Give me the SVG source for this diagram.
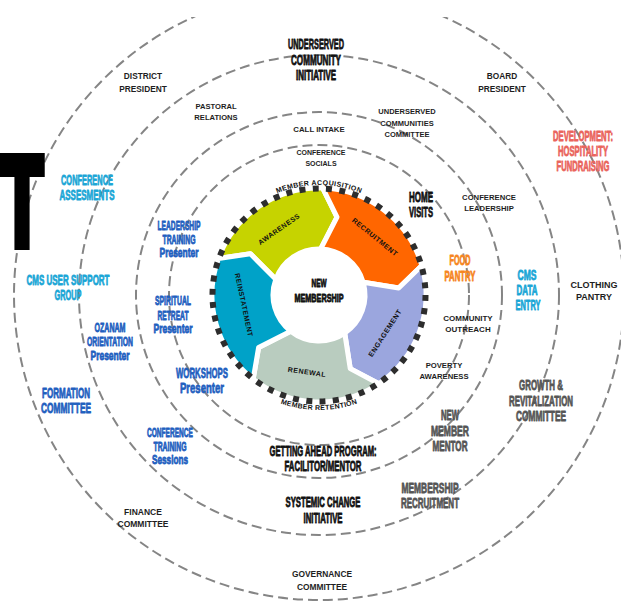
<svg xmlns="http://www.w3.org/2000/svg" width="621" height="606" viewBox="0 0 621 606">
<defs>
<style>
.ring{fill:none;stroke:#858585;stroke-width:2;stroke-dasharray:10 5}
.lbl{font-family:"Liberation Sans",Arial,sans-serif;font-weight:bold;fill:#1e1e1e;text-anchor:middle}
.c{font-family:"Liberation Sans Narrow","Liberation Sans",Arial,sans-serif;font-weight:bold;font-size:14px;text-anchor:middle;stroke-width:0.8;stroke-linejoin:round}
.blk{fill:#111;stroke:#111}
.cy{fill:#1aa6d6;stroke:#1aa6d6}
.bl{fill:#1f5fbf;stroke:#1f5fbf}
.rd{fill:#ea645c;stroke:#ea645c}
.or{fill:#f68520;stroke:#f68520}
.gy{fill:#555;stroke:#555}
.seg{stroke:#fff;stroke-width:5;stroke-linejoin:round}
.st{font-family:"Liberation Sans",Arial,sans-serif;font-weight:bold;font-size:7px;letter-spacing:0.5px;fill:#111;text-anchor:middle}
</style>
<clipPath id="topclip"><rect x="0" y="17" width="621" height="589"/></clipPath>
<path id="arcTop" d="M 223.74 240 A 110 110 0 0 1 414.26 240"/>
<path id="arcBot" d="M 219.41 352.5 A 115 115 0 0 0 418.59 352.5"/>
</defs>
<rect width="621" height="606" fill="#fff"/>

<g id="rings">
<circle class="ring" cx="319" cy="295" r="305" clip-path="url(#topclip)"/>
<circle class="ring" cx="319" cy="295" r="240"/>
<circle class="ring" cx="319" cy="295" r="183"/>
<circle class="ring" cx="319" cy="295" r="150"/>
</g>

<g id="title-fragment">
<text transform="scale(0.541,1)" x="2.3" y="245" font-family="Liberation Sans,Arial,sans-serif" font-weight="bold" font-size="125.7" fill="#000" stroke="#000" stroke-width="10" stroke-linejoin="miter">T</text>
</g>

<g id="wheel">
<g id="awareness"><path class="seg" fill="#c6d300" d="M 218.45,258.41 A 107 107 0 0 1 322.73,188.06 L 337.0,217.05 L 320.61,249.03 A 46 46 0 0 0 275.77,279.27 L 250.42,253.80 Z"/>
<text class="st" transform="translate(279,229) rotate(-35)" y="2.5">AWARENESS</text></g>
<g id="recruitment"><path class="seg" fill="#ff6600" d="M 322.73,188.06 A 107 107 0 0 1 421.86,265.51 L 398.70,288.03 L 363.22,282.32 A 46 46 0 0 0 320.61,249.03 L 337.0,217.05 Z"/>
<text class="st" transform="translate(375,237) rotate(39)" y="2.5">RECRUITMENT</text></g>
<g id="engagement"><path class="seg" fill="#9ba6de" d="M 421.86,265.51 A 107 107 0 0 1 378.83,383.71 L 350.26,368.64 L 344.72,333.13 A 46 46 0 0 0 363.22,282.32 L 398.70,288.03 Z"/>
<text class="st" transform="translate(385,333) rotate(-57)" y="2.5">ENGAGEMENT</text></g>
<g id="renewal"><path class="seg" fill="#b9ccbf" d="M 378.83,383.71 A 107 107 0 0 1 253.12,379.32 L 258.62,347.49 L 290.68,331.25 A 46 46 0 0 0 344.72,333.13 L 350.26,368.64 Z"/>
<text class="st" transform="translate(307,372) rotate(8)" y="2.5">RENEWAL</text></g>
<g id="reinstatement"><path class="seg" fill="#00a2c8" d="M 253.12,379.32 A 107 107 0 0 1 218.45,258.41 L 250.42,253.80 L 275.77,279.27 A 46 46 0 0 0 290.68,331.25 L 258.62,347.49 Z"/>
<text class="st" transform="translate(244,305) rotate(78)" y="2.5">REINSTATEMENT</text></g>
<circle cx="319" cy="295" r="106.5" fill="none" stroke="#2d2d2d" stroke-width="6" stroke-dasharray="6 7.38"/>
<text class="st" style="letter-spacing:0.4px"><textPath href="#arcTop" startOffset="50%">MEMBER ACQUISITION</textPath></text>
<text class="st" style="letter-spacing:0.3px"><textPath href="#arcBot" startOffset="50%">MEMBER RETENTION</textPath></text>
</g>

<g id="new-membership">
<text class="c blk" style="font-size:11px" x="319" y="287" textLength="15" lengthAdjust="spacingAndGlyphs">NEW</text>
<text class="c blk" style="font-size:11px" x="319" y="302" textLength="49" lengthAdjust="spacingAndGlyphs">MEMBERSHIP</text>
</g>

<g id="underserved-community-initiative">
<text class="c blk" x="316" y="49" textLength="56" lengthAdjust="spacingAndGlyphs">UNDERSERVED</text>
<text class="c blk" x="316" y="65" textLength="50" lengthAdjust="spacingAndGlyphs">COMMUNITY</text>
<text class="c blk" x="316" y="80" textLength="40" lengthAdjust="spacingAndGlyphs">INITIATIVE</text>
</g>
<g id="home-visits">
<text class="c blk" x="421" y="202" textLength="24" lengthAdjust="spacingAndGlyphs">HOME</text>
<text class="c blk" x="421" y="217" textLength="24" lengthAdjust="spacingAndGlyphs">VISITS</text>
</g>
<g id="getting-ahead">
<text class="c blk" x="323" y="456" textLength="107" lengthAdjust="spacingAndGlyphs">GETTING AHEAD PROGRAM:</text>
<text class="c blk" x="323" y="471" textLength="77" lengthAdjust="spacingAndGlyphs">FACILITOR/MENTOR</text>
</g>
<g id="systemic-change">
<text class="c blk" x="323" y="507" textLength="75" lengthAdjust="spacingAndGlyphs">SYSTEMIC CHANGE</text>
<text class="c blk" x="323" y="523" textLength="39" lengthAdjust="spacingAndGlyphs">INITIATIVE</text>
</g>

<g id="conference-assesments">
<text class="c cy" x="87" y="185" textLength="52" lengthAdjust="spacingAndGlyphs">CONFERENCE</text>
<text class="c cy" x="87" y="200" textLength="55" lengthAdjust="spacingAndGlyphs">ASSESMENTS</text>
</g>
<g id="cms-user-support">
<text class="c cy" x="68" y="285" textLength="83" lengthAdjust="spacingAndGlyphs">CMS USER SUPPORT</text>
<text class="c cy" x="68" y="300" textLength="27" lengthAdjust="spacingAndGlyphs">GROUP</text>
</g>
<g id="cms-data-entry">
<text class="c cy" x="527" y="280" textLength="19" lengthAdjust="spacingAndGlyphs">CMS</text>
<text class="c cy" x="527" y="295" textLength="21" lengthAdjust="spacingAndGlyphs">DATA</text>
<text class="c cy" x="528" y="310" textLength="25" lengthAdjust="spacingAndGlyphs">ENTRY</text>
</g>

<g id="leadership-training">
<text class="c bl" style="font-size:12.5px" x="179" y="230" textLength="43" lengthAdjust="spacingAndGlyphs">LEADERSHIP</text>
<text class="c bl" style="font-size:12.5px" x="179" y="244" textLength="33" lengthAdjust="spacingAndGlyphs">TRAINING</text>
<text class="c bl" style="font-size:12.5px" x="179" y="257" textLength="39" lengthAdjust="spacingAndGlyphs">Presenter</text>
</g>
<g id="spiritual-retreat">
<text class="c bl" style="font-size:12.5px" x="173" y="305" textLength="36" lengthAdjust="spacingAndGlyphs">SPIRITUAL</text>
<text class="c bl" style="font-size:12.5px" x="173" y="319.5" textLength="31" lengthAdjust="spacingAndGlyphs">RETREAT</text>
<text class="c bl" style="font-size:12.5px" x="173" y="333" textLength="39" lengthAdjust="spacingAndGlyphs">Presenter</text>
</g>
<g id="ozanam-orientation">
<text class="c bl" style="font-size:12.5px" x="110" y="332" textLength="31" lengthAdjust="spacingAndGlyphs">OZANAM</text>
<text class="c bl" style="font-size:12.5px" x="110" y="346" textLength="46" lengthAdjust="spacingAndGlyphs">ORIENTATION</text>
<text class="c bl" style="font-size:12.5px" x="110" y="360" textLength="39" lengthAdjust="spacingAndGlyphs">Presenter</text>
</g>
<g id="workshops">
<text class="c bl" style="font-size:15px" x="202" y="377.5" textLength="52" lengthAdjust="spacingAndGlyphs">WORKSHOPS</text>
<text class="c bl" style="font-size:15px" x="202" y="392.5" textLength="44" lengthAdjust="spacingAndGlyphs">Presenter</text>
</g>
<g id="formation-committee">
<text class="c bl" x="66" y="398" textLength="48" lengthAdjust="spacingAndGlyphs">FORMATION</text>
<text class="c bl" x="66" y="413" textLength="50" lengthAdjust="spacingAndGlyphs">COMMITTEE</text>
</g>
<g id="conference-training">
<text class="c bl" style="font-size:12.5px" x="170" y="436.5" textLength="46" lengthAdjust="spacingAndGlyphs">CONFERENCE</text>
<text class="c bl" style="font-size:12.5px" x="170" y="450.5" textLength="33" lengthAdjust="spacingAndGlyphs">TRAINING</text>
<text class="c bl" style="font-size:12.5px" x="170" y="463.5" textLength="36" lengthAdjust="spacingAndGlyphs">Sessions</text>
</g>

<g id="development">
<text class="c rd" x="583" y="141" textLength="60" lengthAdjust="spacingAndGlyphs">DEVELOPMENT:</text>
<text class="c rd" x="583" y="156" textLength="50" lengthAdjust="spacingAndGlyphs">HOSPITALITY</text>
<text class="c rd" x="583" y="171" textLength="53" lengthAdjust="spacingAndGlyphs">FUNDRAISING</text>
</g>
<g id="food-pantry">
<text class="c or" x="460" y="265" textLength="21" lengthAdjust="spacingAndGlyphs">FOOD</text>
<text class="c or" x="460" y="281" textLength="31" lengthAdjust="spacingAndGlyphs">PANTRY</text>
</g>

<g id="growth-revitalization">
<text class="c gy" x="541" y="390" textLength="44" lengthAdjust="spacingAndGlyphs">GROWTH &amp;</text>
<text class="c gy" x="541" y="406" textLength="64" lengthAdjust="spacingAndGlyphs">REVITALIZATION</text>
<text class="c gy" x="541" y="421" textLength="50" lengthAdjust="spacingAndGlyphs">COMMITTEE</text>
</g>
<g id="new-member-mentor">
<text class="c gy" x="450" y="420" textLength="18" lengthAdjust="spacingAndGlyphs">NEW</text>
<text class="c gy" x="450" y="436" textLength="38" lengthAdjust="spacingAndGlyphs">MEMBER</text>
<text class="c gy" x="450" y="451" textLength="35" lengthAdjust="spacingAndGlyphs">MENTOR</text>
</g>
<g id="membership-recruitment">
<text class="c gy" x="430" y="493" textLength="57" lengthAdjust="spacingAndGlyphs">MEMBERSHIP</text>
<text class="c gy" x="430" y="508" textLength="58" lengthAdjust="spacingAndGlyphs">RECRUITMENT</text>
</g>

<g id="district-president">
<text class="lbl" font-size="8.3" x="143" y="79">DISTRICT</text>
<text class="lbl" font-size="8.3" x="143" y="92">PRESIDENT</text>
</g>
<g id="board-president">
<text class="lbl" font-size="8.3" x="502" y="79">BOARD</text>
<text class="lbl" font-size="8.3" x="502" y="92">PRESIDENT</text>
</g>
<g id="pastoral-relations">
<text class="lbl" font-size="7.6" x="216" y="109">PASTORAL</text>
<text class="lbl" font-size="7.6" x="216" y="120">RELATIONS</text>
</g>
<g id="underserved-communities-committee">
<text class="lbl" font-size="7.5" x="407" y="114">UNDERSERVED</text>
<text class="lbl" font-size="7.5" x="407" y="126">COMMUNITIES</text>
<text class="lbl" font-size="7.5" x="407" y="137">COMMITTEE</text>
</g>
<g id="call-intake">
<text class="lbl" font-size="7.8" x="319" y="131.5">CALL INTAKE</text>
</g>
<g id="conference-socials">
<text class="lbl" font-size="7" x="321" y="154.5">CONFERENCE</text>
<text class="lbl" font-size="7" x="321" y="165.5">SOCIALS</text>
</g>
<g id="conference-leadership">
<text class="lbl" font-size="7.7" x="489" y="200">CONFERENCE</text>
<text class="lbl" font-size="7.7" x="489" y="211">LEADERSHIP</text>
</g>
<g id="clothing-pantry">
<text class="lbl" font-size="9" x="594" y="287.5">CLOTHING</text>
<text class="lbl" font-size="9" x="594" y="299.5">PANTRY</text>
</g>
<g id="community-outreach">
<text class="lbl" font-size="8" x="468" y="320.5">COMMUNITY</text>
<text class="lbl" font-size="8" x="468" y="331.5">OUTREACH</text>
</g>
<g id="poverty-awareness">
<text class="lbl" font-size="7.7" x="444" y="368">POVERTY</text>
<text class="lbl" font-size="7.7" x="444" y="379">AWARENESS</text>
</g>
<g id="finance-committee">
<text class="lbl" font-size="8.5" x="143" y="514.5">FINANCE</text>
<text class="lbl" font-size="8.5" x="143" y="526.5">COMMITTEE</text>
</g>
<g id="governance-committee">
<text class="lbl" font-size="8.4" x="322" y="577">GOVERNANCE</text>
<text class="lbl" font-size="8.4" x="322" y="590">COMMITTEE</text>
</g>
</svg>
